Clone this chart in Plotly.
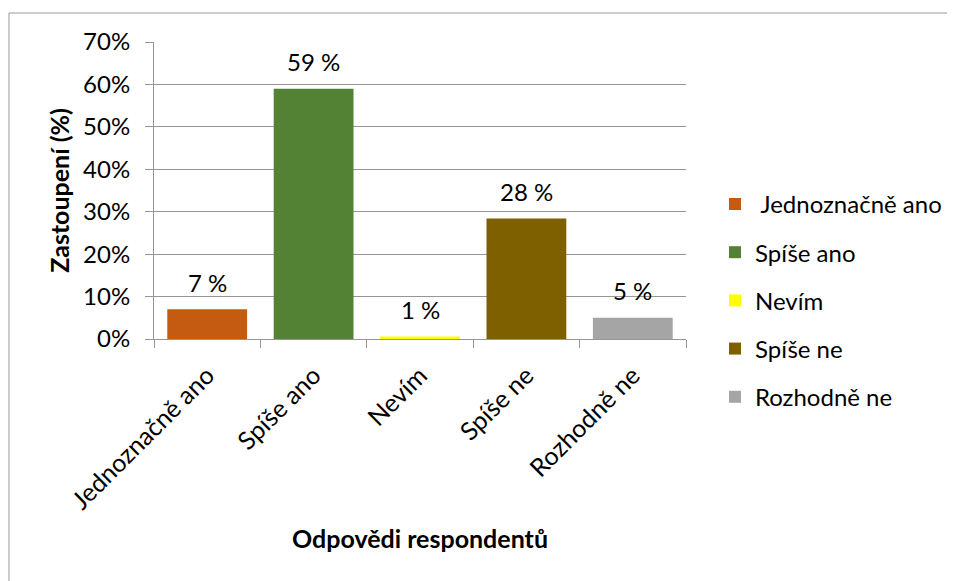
import plotly.graph_objects as go

categories = ["Jednoznačně ano", "Spíše ano", "Nevím", "Spíše ne", "Rozhodně ne"]
legend_names = [" Jednoznačně ano", "Spíše ano", "Nevím", "Spíše ne", "Rozhodně ne"]
values = [7.0, 59.0, 0.6, 28.4, 5.0]
value_labels = ["7 %", "59 %", "1 %", "28 %", "5 %"]
colors = ["#C55A11", "#548235", "#FFFF00", "#7F6000", "#A5A5A5"]
y_ticks = [0, 10, 20, 30, 40, 50, 60, 70]
y_ticklabels = ["0%", "10%", "20%", "30%", "40%", "50%", "60%", "70%"]

FONT = "Lato, Calibri, Carlito, sans-serif"

fig = go.Figure()
for i, cat in enumerate(categories):
    fig.add_trace(go.Bar(
        x=[cat], y=[values[i]], name=legend_names[i],
        marker=dict(color=colors[i], line=dict(width=0)),
        width=0.75, legendgroup=f"g{i}",
    ))

annotations = [
    dict(x=cat, y=v, xref="x", yref="y", text=lab, showarrow=False,
         yanchor="middle", yshift=27, font=dict(size=24, color="black", family=FONT))
    for cat, v, lab in zip(categories, values, value_labels)
]

fig.update_layout(
    width=955, height=581,
    margin=dict(l=146, r=277, t=34, b=250),
    paper_bgcolor="white", plot_bgcolor="white",
    barmode="overlay",
    font=dict(family=FONT, size=24, color="black"),
    showlegend=True,
    legend=dict(
        x=1.0545, y=0.13, xanchor="left", yanchor="middle",
        font=dict(size=24, family=FONT, color="black"),
        tracegroupgap=14, itemwidth=30,
        bgcolor="rgba(0,0,0,0)",
    ),
    xaxis=dict(
        categoryorder="array", categoryarray=categories,
        tickangle=-45, tickson="boundaries", ticks="outside", ticklen=8,
        tickcolor="#969696", showline=True, linecolor="#969696", linewidth=1,
        showgrid=False, tickfont=dict(size=25, family=FONT),
        automargin=False, ticklabelstandoff=11,
        title=dict(text="<b>Odpovědi respondentů</b>", font=dict(size=25, family=FONT), standoff=17),
    ),
    yaxis=dict(
        range=[0, 70], tickvals=y_ticks, ticktext=y_ticklabels,
        ticks="outside", ticklen=8, tickcolor="#969696",
        showline=True, linecolor="#969696", linewidth=1,
        showgrid=True, gridcolor="#969696", gridwidth=1,
        zeroline=False, tickfont=dict(size=24, family=FONT),
        automargin=False, ticklabelstandoff=10,
        title=dict(text="<b>Zastoupení (%)</b>", font=dict(size=25, family=FONT), standoff=6),
    ),
    annotations=annotations,
    shapes=[dict(
        type="rect", xref="paper", yref="paper",
        x0=-0.2726, x1=1.65, y0=-0.95, y1=1.0976,
        line=dict(color="#9a9a9a", width=1), fillcolor="rgba(0,0,0,0)", layer="below",
    )],
)

fig.write_html("out.html")
